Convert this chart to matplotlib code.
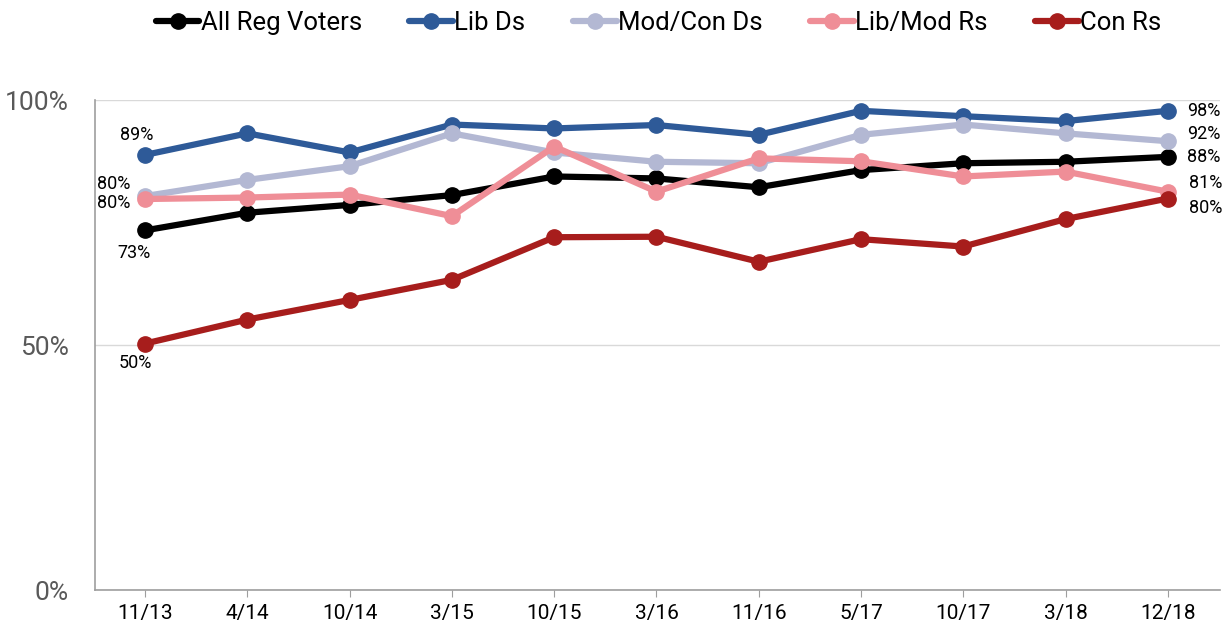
import matplotlib
matplotlib.use("Agg")
import matplotlib.pyplot as plt

plt.rcParams['font.family'] = ['Roboto', 'DejaVu Sans']

categories = ["11/13", "4/14", "10/14", "3/15", "10/15", "3/16", "11/16", "5/17", "10/17", "3/18", "12/18"]
all_reg = [73.4, 77.0, 78.6, 80.6, 84.4, 84.0, 82.2, 85.7, 87.1, 87.4, 88.4]
lib_ds = [88.8, 93.2, 89.3, 95.0, 94.2, 94.9, 92.9, 97.8, 96.7, 95.7, 97.8]
modcon_ds = [80.4, 83.7, 86.5, 93.2, 89.3, 87.4, 87.1, 92.9, 95.0, 93.2, 91.6]
libmod_rs = [79.8, 80.1, 80.7, 76.3, 90.5, 81.3, 88.1, 87.5, 84.4, 85.4, 81.3]
con_rs = [50.3, 55.2, 59.2, 63.3, 72.0, 72.1, 67.0, 71.6, 70.1, 75.7, 79.9]

series_names = ["All Reg Voters", "Lib Ds", "Mod/Con Ds", "Lib/Mod Rs", "Con Rs"]
series_vals = [all_reg, lib_ds, modcon_ds, libmod_rs, con_rs]
colors = ["#000000", "#2E5A98", "#B3B8D3", "#EF8E97", "#A71D1C"]

start_labels = ["73%", "89%", "80%", "80%", "50%"]
end_labels = ["88%", "98%", "92%", "81%", "80%"]

fig = plt.figure(figsize=(12.31, 6.26), dpi=100)
ax = fig.add_axes([0.0772, 0.0575, 0.9138, 0.7827])

x = list(range(len(categories)))
for name, vals, c in zip(series_names, series_vals, colors):
    ax.plot(x, vals, color=c, lw=4.5, marker='o', ms=11, label=name,
            solid_joinstyle='round', solid_capstyle='round')

ax.set_xlim(-0.49, 10.51)
ax.set_ylim(0, 100)
ax.set_yticks([0, 50, 100])
ax.set_yticklabels(["0%", "50%", "100%"])
ax.set_xticks(x)
ax.set_xticklabels(categories)
ax.tick_params(axis='y', length=0, labelsize=19, labelcolor="#595959", pad=19)
ax.tick_params(axis='x', length=5, color="#9E9E9E", labelsize=15, pad=5)
ax.yaxis.grid(True, color="#D9D9D9", lw=1)
ax.set_axisbelow(True)
for s in ['top', 'right']:
    ax.spines[s].set_visible(False)
for s in ['left', 'bottom']:
    ax.spines[s].set_color("#9E9E9E")
    ax.spines[s].set_linewidth(1.2)

# start labels
fs = 13
ax.annotate(start_labels[1], (0, lib_ds[0]), xytext=(-18, 11), textcoords='offset points', fontsize=fs)
ax.annotate(start_labels[2], (0, modcon_ds[0]), xytext=(-35, 9), textcoords='offset points', fontsize=fs, va='center')
ax.annotate(start_labels[3], (0, libmod_rs[0]), xytext=(-35, -3), textcoords='offset points', fontsize=fs, va='center')
ax.annotate(start_labels[0], (0, all_reg[0]), xytext=(-20, -16), textcoords='offset points', fontsize=fs, va='center')
ax.annotate(start_labels[4], (0, con_rs[0]), xytext=(-19, -14), textcoords='offset points', fontsize=fs, va='center')

# end labels
last = len(categories) - 1
end_offsets = [(14, 0), (14, 0), (14, 5), (15, 6.5), (15, -7)]
for i, (vals, lab) in enumerate(zip(series_vals, end_labels)):
    ax.annotate(lab, (last, vals[last]), xytext=end_offsets[i], textcoords='offset points',
                fontsize=fs, va='center', ha='left', annotation_clip=False)

leg = fig.legend(loc='center', bbox_to_anchor=(0.535, 0.963), ncol=5, frameon=False,
                 fontsize=18.5, handlelength=1.7, handletextpad=0.05, columnspacing=1.85)

fig.savefig("out.png", dpi=100)
